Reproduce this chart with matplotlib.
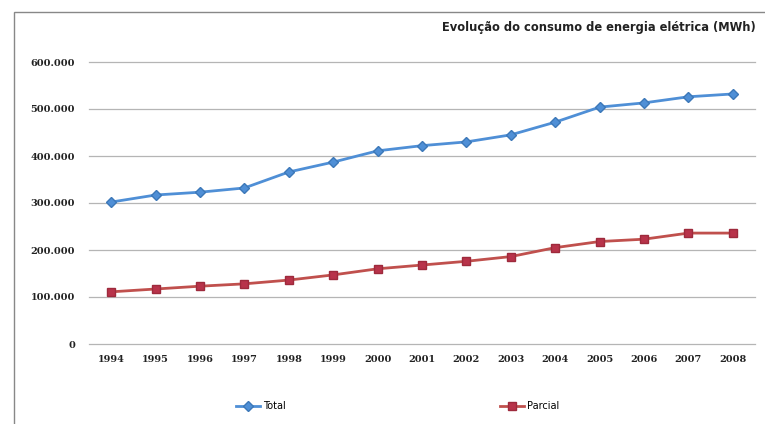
import matplotlib.pyplot as plt
from matplotlib.patches import Rectangle
from matplotlib.ticker import FuncFormatter

# Data (MWh)
years = list(range(1994, 2009))
total = [302000, 317000, 323000, 332000, 366000, 387000, 411000, 422000,
         430000, 445000, 472000, 504000, 513000, 526000, 532000]
parcial = [111000, 117000, 123000, 128000, 136000, 147000, 160000, 168000,
           176000, 186000, 205000, 218000, 223000, 236000, 236000]

fig = plt.figure(figsize=(7.65, 4.24), dpi=100)
ax = fig.add_axes([89 / 765, 1 - 344 / 424, 666 / 765, (344 - 62) / 424])

ax.plot(years, total, color='#4F8FD6', lw=2, marker='D', ms=5,
        mec='#3C78B8', label='Total')
ax.plot(years, parcial, color='#C0504D', lw=2, marker='s', ms=6,
        mfc='#B8334A', mec='#9E2A3C', label='Parcial')

ax.set_xlim(1993.5, 2008.5)
ax.set_ylim(0, 600000)
ax.set_xticks(years)
ax.set_yticks(range(0, 600001, 100000))
ax.yaxis.set_major_formatter(FuncFormatter(lambda v, p: f'{int(v):,}'.replace(',', '.')))
ax.tick_params(length=0, labelsize=7, colors='#222222')
ax.tick_params(axis='y', pad=10)
ax.tick_params(axis='x', pad=8)
for lab in ax.get_xticklabels() + ax.get_yticklabels():
    lab.set_fontweight('bold')
    lab.set_family('DejaVu Serif')
ax.grid(axis='y', color='#B5B5B5', lw=0.9)
for gl in ax.get_ygridlines():
    gl.set_clip_on(False)
ax.set_axisbelow(True)
for s in ax.spines.values():
    s.set_visible(False)

fig.text(0.988, 1 - 28 / 424, 'Evolução do consumo de energia elétrica (MWh)',
         ha='right', va='center', fontsize=8.3, fontweight='bold', color='#222222')

fig.legend(loc='lower center', ncol=2, frameon=False, fontsize=7,
           bbox_to_anchor=(0.52, 0.01), columnspacing=22, handlelength=2.5,
           handletextpad=0.3)

# chart area border
fig.patches.append(Rectangle((14 / 765, -0.01), 1.0, 1 - 12 / 424 + 0.01,
                             transform=fig.transFigure, fill=False,
                             ec='#888888', lw=1))

fig.savefig('out.png', dpi=100)
